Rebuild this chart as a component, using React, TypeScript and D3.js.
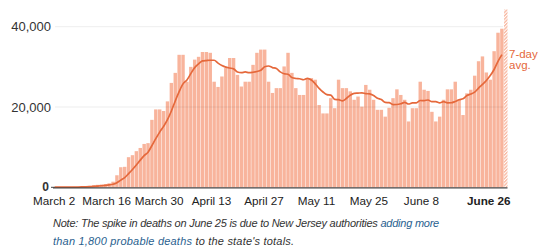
import React from "react";
import * as d3 from "d3";

// Daily new cases, March 2 – June 26 (one value per day)
const cases: number[] = [
  20, 25, 30, 50, 75, 100, 120, 170, 280, 350,
  500, 620, 700, 800, 1000, 1400, 3000, 5000, 5100, 7500,
  8000, 9000, 9800, 10800, 11000, 16800, 19400, 19400, 19000, 21400,
  26000, 28500, 33000, 33000, 26300, 30000, 31800, 32500, 33700, 33700,
  33500, 26300, 25000, 27600, 29700, 32200, 32200, 28000, 25100, 26300,
  26300, 30500, 33500, 34300, 34300, 26300, 23500, 24700, 24700, 30100,
  33500, 28500, 24700, 23000, 23000, 27200, 27200, 26800, 20500, 18400,
  18400, 22200, 19700, 26800, 24700, 24700, 23900, 21800, 22600, 20100,
  25500, 24300, 21800, 19300, 19300, 17600, 19800, 22200, 24400, 23000,
  21800, 16400, 19700, 19700, 26300, 24300, 24000, 18800, 16400, 17600,
  21800, 24400, 24400, 26300, 21800, 18000, 23400, 24300, 27800, 31400,
  32600, 28600, 26800, 33900, 38500, 39500, 44300,
];

const startDate = new Date(2020, 2, 2);
const tickLabels: string[] = ["March 2", "March 16", "March 30", "April 13", "April 27", "May 11", "May 25", "June 8", "June 26"];
const tickDays: number[] = [0, 14, 28, 42, 56, 70, 84, 98, 116];
const yTicks: number[] = [0, 20000, 40000];
const hatchedDay = 116; // last day drawn hatched, excluded from average
const avgWindow = 7;

const W = 540;
const H = 251;
const FONT = "'Liberation Sans', Arial, sans-serif";

export default function App() {
  const days = cases.map((_, i) => i);
  const dates = days.map((i) => d3.timeDay.offset(startDate, i));

  const x = d3.scaleBand<number>().domain(days).range([53, 507.5]).paddingInner(0.12).paddingOuter(0);
  const xLabel = d3.scaleLinear().domain([0, 116]).range([54.2, 488.8]);
  const y = d3.scaleLinear().domain([0, 40000]).range([187.3, 26.7]);

  const avg = days
    .filter((i) => i !== hatchedDay)
    .map((i) => ({
      i,
      v: d3.mean(cases.slice(Math.max(0, i - avgWindow + 1), i + 1)) as number,
    }));

  const line = d3
    .line<{ i: number; v: number }>()
    .x((d) => (x(d.i) as number) + x.bandwidth() / 2)
    .y((d) => y(d.v))
    .curve(d3.curveMonotoneX);

  const barColor = "#f8b49c";
  const lineColor = "#e5683b";

  return (
    <svg width={W} height={H} style={{ position: "absolute", left: 0, top: 0, background: "#fff" }} fontFamily={FONT}>
      <defs>
        <pattern id="hatch" patternUnits="userSpaceOnUse" width="2.4" height="2.4" patternTransform="rotate(45)">
          <rect width="2.4" height="2.4" fill="#fff" />
          <rect width="1.3" height="2.4" fill={barColor} />
        </pattern>
      </defs>

      {/* bars */}
      {days.map((i) => (
        <rect
          key={i}
          x={x(i)}
          y={y(cases[i])}
          width={x.bandwidth()}
          height={y(0) - y(cases[i])}
          fill={i === hatchedDay ? "url(#hatch)" : barColor}
        >
          <title>{d3.timeFormat("%B %-d")(dates[i])}</title>
        </rect>
      ))}

      {/* gridlines */}
      {yTicks.filter((t) => t > 0).map((t) => (
        <line key={t} x1={55} x2={503} y1={y(t)} y2={y(t)} stroke="#000" strokeOpacity={0.07} strokeWidth={1} />
      ))}

      {/* y labels */}
      {yTicks.map((t) => (
        <text
          key={t}
          x={t === 0 ? 49 : 51}
          y={t === 0 ? y(t) - 1 : y(t)}
          dy="0.35em"
          textAnchor="end"
          fontSize={t === 0 ? 12 : 13}
          fontWeight={t === 0 ? "bold" : "normal"}
          fill="#333"
        >
          {d3.format(",")(t)}
        </text>
      ))}
      <line x1={51} x2={55} y1={y(0)} y2={y(0)} stroke="#444" strokeWidth={1} />

      {/* 7-day average */}
      <path d={line(avg) as string} fill="none" stroke={lineColor} strokeWidth={1.7} strokeLinejoin="round" />
      <text x={509} y={57.5} fontSize={11.5} fill={lineColor}>7-day</text>
      <text x={509} y={69} fontSize={11.5} fill={lineColor}>avg.</text>

      {/* baseline */}
      <line x1={53} x2={507.5} y1={y(0) + 0.6} y2={y(0) + 0.6} stroke="#444" strokeWidth={1.4} />

      {/* x labels */}
      {tickDays.map((d, k) => (
        <text
          key={d}
          x={xLabel(d)}
          y={205}
          textAnchor="middle"
          fontSize={11.7}
          fontWeight={k === tickDays.length - 1 ? "bold" : "normal"}
          fill="#222"
        >
          {tickLabels[k]}
        </text>
      ))}

      {/* note */}
      <text x={53} y={226.5} fontSize={11} fontStyle="italic" fill="#333" letterSpacing={-0.24}>
        Note: The spike in deaths on June 25 is due to New Jersey authorities{" "}
        <tspan fill="#2a5f8f">adding more</tspan>
      </text>
      <text x={53} y={244.5} fontSize={11} fontStyle="italic" fill="#333" letterSpacing={0.2}>
        <tspan fill="#2a5f8f">than 1,800 probable deaths</tspan> to the state's totals.
      </text>
    </svg>
  );
}
